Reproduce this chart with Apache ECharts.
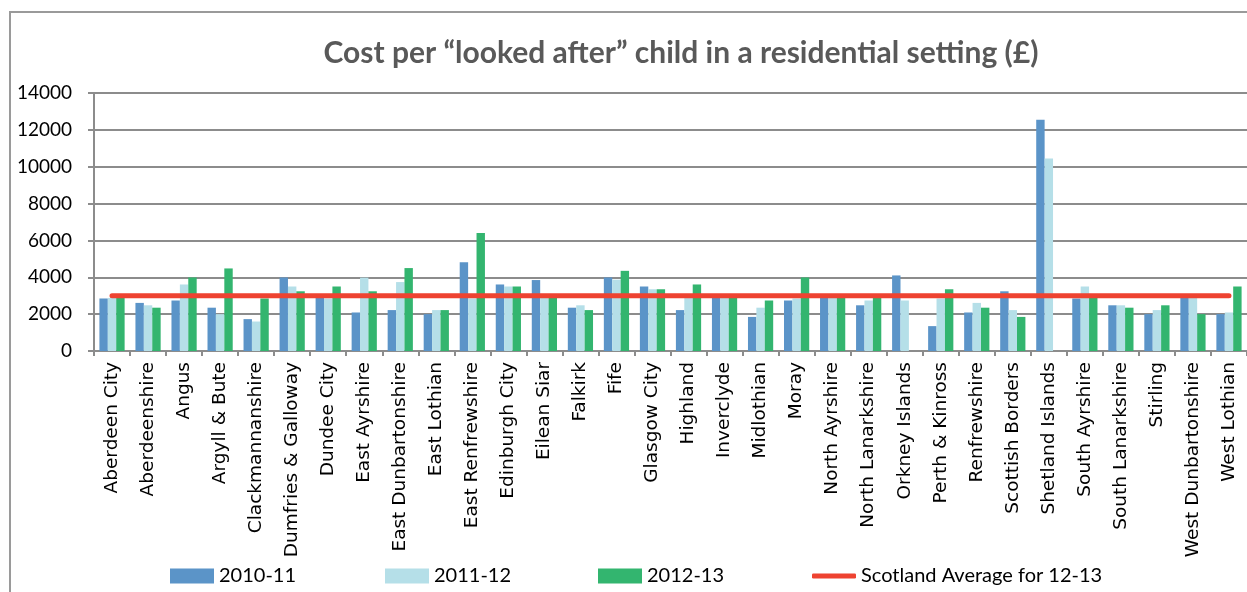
<!DOCTYPE html>
<html>
<head>
<meta charset="utf-8">
<script src="https://cdn.jsdelivr.net/npm/echarts@6/dist/echarts.min.js"></script>
<style>
  html, body { margin: 0; padding: 0; background: #ffffff; }
  #chart { width: 1247px; height: 592px; }
</style>
</head>
<body>
<div id="chart"></div>
<script>
// Council areas along the x axis
const councils = [
  'Aberdeen City', 'Aberdeenshire', 'Angus', 'Argyll & Bute', 'Clackmannanshire',
  'Dumfries & Galloway', 'Dundee City', 'East Ayrshire', 'East Dunbartonshire',
  'East Lothian', 'East Renfrewshire', 'Edinburgh City', 'Eilean Siar', 'Falkirk',
  'Fife', 'Glasgow City', 'Highland', 'Inverclyde', 'Midlothian', 'Moray',
  'North Ayrshire', 'North Lanarkshire', 'Orkney Islands', 'Perth & Kinross',
  'Renfrewshire', 'Scottish Borders', 'Shetland Islands', 'South Ayrshire',
  'South Lanarkshire', 'Stirling', 'West Dunbartonshire', 'West Lothian'
];

// Cost per looked after child (£), by year
const cost2010_11 = [
  2850, 2610, 2740, 2350, 1730, 3990, 2880, 2090, 2220, 2000, 4820, 3610,
  3850, 2350, 3990, 3500, 2220, 2900, 1850, 2740, 2900, 2480, 4100, 1350,
  2090, 3240, 12550, 2850, 2480, 2000, 2900, 2000
];
const cost2011_12 = [
  2880, 2480, 3610, 2000, 1600, 3500, 2850, 3980, 3740, 2220, 2850, 3500,
  2900, 2480, 3870, 3350, 2950, 2900, 2350, 2850, 2900, 2740, 2740, 2850,
  2610, 2220, 10450, 3500, 2480, 2220, 2900, 2090
];
const cost2012_13 = [
  2900, 2350, 3990, 4480, 2850, 3240, 3500, 3240, 4500, 2220, 6400, 3500,
  2900, 2220, 4350, 3350, 3610, 2900, 2740, 3990, 2900, 2900, 0, 3350,
  2350, 1850, 0, 2900, 2350, 2480, 2000, 3500
];

// Scotland-wide average for 2012-13
const scotlandAverage = 3000;

// Value axis ticks
const yTicks = { min: 0, max: 14000, interval: 2000 };

const seriesNames = ['2010-11', '2011-12', '2012-13', 'Scotland Average for 12-13'];
const colors = ['#5B94C8', '#B5DFE8', '#33B56F', '#EE4331'];

const FONT = 'Lato, "Liberation Sans", sans-serif';
const LABEL_FONT = '"DejaVu Sans", sans-serif';

const chart = echarts.init(document.getElementById('chart'), null, { renderer: 'canvas' });

function legendFor(i, left) {
  return {
    data: [seriesNames[i]],
    left: left,
    top: 566,
    padding: 0,
    itemWidth: 44,
    itemHeight: i === 3 ? 5 : 15,
    itemGap: 4,
    icon: i === 3 ? 'roundRect' : 'rect',
    selectedMode: false,
    textStyle: { fontFamily: FONT, fontSize: 20, color: '#000', padding: [0, 0, 0, 0] }
  };
}

chart.setOption({
  animation: false,
  color: colors,
  title: {
    text: 'Cost per \u201clooked after\u201d child in a residential setting (\u00a3)',
    left: 676,
    textAlign: 'center',
    top: 33,
    textStyle: { fontFamily: FONT, fontSize: 30, fontWeight: 'bold', color: '#595959' }
  },
  graphic: [{
    type: 'rect',
    shape: { x: 10, y: 12, width: 1260, height: 620 },
    style: { fill: 'none', stroke: '#9a9a9a', lineWidth: 2 },
    silent: true
  }],
  legend: [legendFor(0, 170), legendFor(1, 385), legendFor(2, 598), legendFor(3, 812)],
  grid: { left: 94, top: 93, width: 1155, height: 258, containLabel: false },
  xAxis: {
    type: 'category',
    data: councils,
    axisLine: { lineStyle: { color: '#8c8c8c', width: 2 } },
    axisTick: { show: true, length: 5, lineStyle: { color: '#8c8c8c', width: 2 } },
    axisLabel: {
      rotate: 90,
      interval: 0,
      margin: 11,
      fontFamily: LABEL_FONT,
      fontSize: 18.5,
      color: '#000'
    }
  },
  yAxis: {
    type: 'value',
    min: yTicks.min,
    max: yTicks.max,
    interval: yTicks.interval,
    axisLine: { show: true, lineStyle: { color: '#8c8c8c', width: 2 } },
    axisTick: { show: true, length: 6, lineStyle: { color: '#8c8c8c', width: 2 } },
    splitLine: { lineStyle: { color: '#8c8c8c', width: 2 } },
    axisLabel: {
      fontFamily: FONT,
      fontSize: 19,
      color: '#000',
      margin: 22,
      formatter: (v) => String(v)
    }
  },
  series: [
    { name: seriesNames[0], type: 'bar', data: cost2010_11, barGap: '0%', barCategoryGap: '30%' },
    { name: seriesNames[1], type: 'bar', data: cost2011_12, barGap: '0%', barCategoryGap: '30%' },
    { name: seriesNames[2], type: 'bar', data: cost2012_13, barGap: '0%', barCategoryGap: '30%' },
    {
      name: seriesNames[3],
      type: 'line',
      data: councils.map(() => scotlandAverage),
      showSymbol: false,
      symbol: 'none',
      lineStyle: { color: colors[3], width: 5, cap: 'round' },
      itemStyle: { color: colors[3] },
      z: 5
    }
  ]
});
</script>
</body>
</html>
